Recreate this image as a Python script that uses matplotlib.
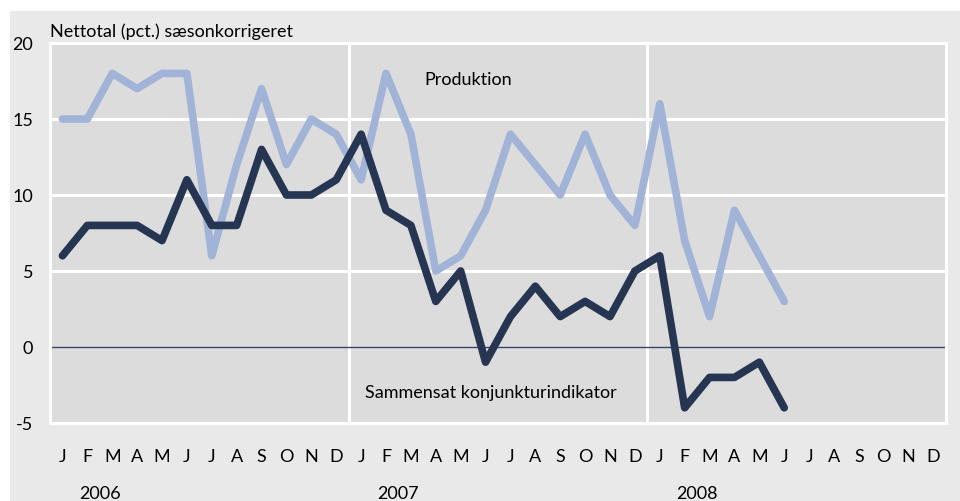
import matplotlib.pyplot as plt
from matplotlib.patches import Rectangle
from matplotlib.transforms import blended_transform_factory

#%% data
months = ['J', 'F', 'M', 'A', 'M', 'J', 'J', 'A', 'S', 'O', 'N', 'D'] * 3
years = ['2006', '2007', '2008']

produktion = [15, 15, 18, 17, 18, 18, 6, 12, 17, 12, 15, 14,
              11, 18, 14, 5, 6, 9, 14, 12, 10, 14, 10, 8,
              16, 7, 2, 9, 6, 3]
konjunktur = [6, 8, 8, 8, 7, 11, 8, 8, 13, 10, 10, 11,
              14, 9, 8, 3, 5, -1, 2, 4, 2, 3, 2, 5,
              6, -4, -2, -2, -1, -4]

plt.rcParams['font.family'] = ['Lato', 'DejaVu Sans']

#%% plot
fig = plt.figure(figsize=(9.6, 5.02), dpi=100, facecolor='white')
bg = Rectangle((10/960, 0), 1, 1 - 12/502, transform=fig.transFigure,
               facecolor='#e9e9e9', edgecolor='none', zorder=-10)
fig.patches.append(bg)

ax = fig.add_axes([50/960, 1 - 424/502, 896/960, 380/502])
ax.set_facecolor('#dcdcdc')
ax.set_xlim(-0.5, 35.5)
ax.set_ylim(-5, 20)

# grid
for y in [5, 10, 15]:
    ax.axhline(y, color='white', lw=2.2, zorder=1)
for x in [11.5, 23.5]:
    ax.axvline(x, color='white', lw=2.2, zorder=1)
ax.axhline(0, color='#34456a', lw=1.0, zorder=2)
for s in ax.spines.values():
    s.set_color('white')
    s.set_linewidth(2.2)

ax.plot(range(len(produktion)), produktion, color='#a1b4d8', lw=5.5,
        solid_joinstyle='round', solid_capstyle='round', zorder=3)
ax.plot(range(len(konjunktur)), konjunktur, color='#253552', lw=5.5,
        solid_joinstyle='round', solid_capstyle='round', zorder=4)

ax.set_yticks([-5, 0, 5, 10, 15, 20])
ax.set_yticklabels(['-5', '0', '5', '10', '15', '20'])
ax.tick_params(axis='y', length=0, pad=12, labelsize=13)
ax.set_xticks([])

tr = blended_transform_factory(ax.transData, fig.transFigure)
for i, m in enumerate(months):
    ax.text(i, 1 - 457/502, m, transform=tr, ha='center', va='center', fontsize=13)
for k, yr in enumerate(years):
    ax.text(12*k + 1.5, 1 - 494/502, yr, transform=tr, ha='center', va='center', fontsize=13)

fig.text(50/960, 1 - 32/502, 'Nettotal (pct.) sæsonkorrigeret', ha='left', va='center', fontsize=13)
ax.text(14.55, 17.6, 'Produktion', ha='left', va='center', fontsize=13, zorder=5)
ax.text(12.15, -2.95, 'Sammensat konjunkturindikator', ha='left', va='center', fontsize=13, zorder=5)

plt.savefig('out.png', dpi=100)
